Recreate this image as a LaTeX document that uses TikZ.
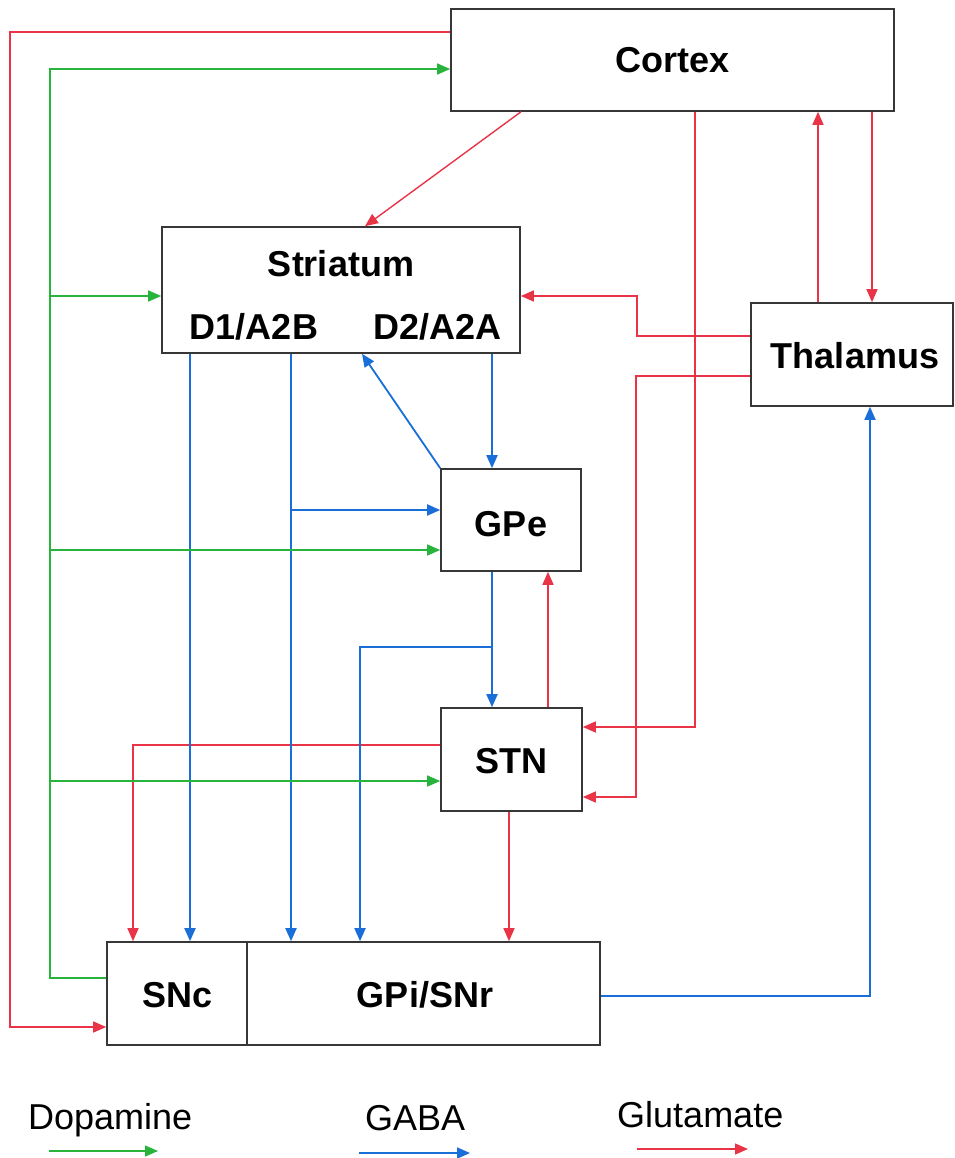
\documentclass[tikz,border=0pt]{standalone}
\usepackage{fontspec}
\setmainfont{Liberation Sans}
\usetikzlibrary{arrows.meta}
\definecolor{glured}{RGB}{232,52,70}
\definecolor{gabablue}{RGB}{25,110,215}
\definecolor{dagreen}{RGB}{40,180,60}
\definecolor{boxgray}{RGB}{55,55,55}
\begin{document}
\begin{tikzpicture}[x=1pt,y=-1pt,
  region/.style={draw=boxgray,line width=1.6pt,inner sep=0pt,
    font=\fontsize{36}{40}\selectfont\bfseries},
  lbl/.style={inner sep=0pt,font=\fontsize{36}{40}\selectfont\bfseries},
  legtext/.style={inner sep=0pt,font=\fontsize{36}{40}\selectfont,anchor=base west},
  tip/.style={-{Triangle[length=13pt,width=11pt]}},
  glu/.style={draw=glured,line width=1.4pt,tip},
  gaba/.style={draw=gabablue,line width=1.8pt,tip},
  dopa/.style={draw=dagreen,line width=1.4pt,tip}]
\useasboundingbox (0,0) rectangle (954,1158);
\fill[white] (0,0) rectangle (954,1158);

% regions
\node[region,minimum width=443pt,minimum height=102pt] (cortex) at (672.5,60) {};
\node[lbl] (cortexlbl) at (cortex.center) {Cortex};
\node[region,minimum width=358pt,minimum height=126pt] (striatum) at (341,290) {};
\node[lbl,anchor=base] (strlbl) at (341,276) {Striatum};
\node[lbl,anchor=base] (d1lbl) at (254,339) {D1/A2B};
\node[lbl,anchor=base] (d2lbl) at (437.5,339) {D2/A2A};
\node[region,minimum width=202pt,minimum height=103pt] (thal) at (852,354.5) {};
\node[lbl] (thallbl) at (855,356) {Thalamus};
\node[region,minimum width=140pt,minimum height=102pt] (gpe) at (511,520) {};
\node[lbl] (gpelbl) at (511,524) {GPe};
\node[region,minimum width=141pt,minimum height=103pt] (stn) at (511.5,759.5) {};
\node[lbl] (stnlbl) at (511.5,761) {STN};
\node[region,minimum width=140pt,minimum height=103pt] (snc) at (177,993.5) {};
\node[lbl] (snclbl) at (178,995) {SNc};
\node[region,minimum width=353pt,minimum height=103pt] (gpi) at (423.5,993.5) {};
\node[lbl] (gpilbl) at (425,995) {GPi/SNr};

% guide coordinates (columns and rows)
\foreach \xx in {10,50,133,190,291,360,362,365,492,509,521,548,636,637,695,818,870,872}
  {\coordinate (x\xx) at (\xx,0);}
\foreach \yy in {32,69,296,336,376,510,550,647,727,745,781,797,978,996,1027}
  {\coordinate (y\yy) at (0,\yy);}

% glutamate
\draw[glu] (cortex.west |- y32) -| (x10 |- y1027) -- (snc.west |- y1027);
\draw[glu] (cortex.south -| x521) -- (striatum.north -| x365);
\draw[glu] (cortex.south -| x695) |- (stn.east |- y727);
\draw[glu] (thal.north -| x818) -- (cortex.south -| x818);
\draw[glu] (cortex.south -| x872) -- (thal.north -| x872);
\draw[glu] (thal.west |- y336) -| (x637 |- y296) -- (striatum.east |- y296);
\draw[glu] (thal.west |- y376) -| (x636 |- y797) -- (stn.east |- y797);
\draw[glu] (stn.north -| x548) -- (gpe.south -| x548);
\draw[glu] (stn.west |- y745) -| (snc.north -| x133);
\draw[glu] (stn.south -| x509) -- (gpi.north -| x509);
% GABA
\draw[gaba] (striatum.south -| x190) -- (snc.north -| x190);
\draw[gaba] (striatum.south -| x291) -- (gpi.north -| x291);
\draw[gaba] (x291 |- y510) -- (gpe.west |- y510);
\draw[gaba] (striatum.south -| x492) -- (gpe.north -| x492);
\draw[gaba] (gpe.north west) -- (striatum.south -| x362);
\draw[gaba] (gpe.south -| x492) -- (stn.north -| x492);
\draw[gaba] (x492 |- y647) -| (gpi.north -| x360);
\draw[gaba] (gpi.east |- y996) -| (thal.south -| x870);
% dopamine
\draw[dopa] (snc.west |- y978) -| (x50 |- y69) -- (cortex.west |- y69);
\draw[dopa] (x50 |- y296) -- (striatum.west |- y296);
\draw[dopa] (x50 |- y550) -- (gpe.west |- y550);
\draw[dopa] (x50 |- y781) -- (stn.west |- y781);

% legend
\node[legtext] (ldop) at (28,1129) {Dopamine};
\node[legtext] (lgaba) at (365,1130) {GABA};
\node[legtext] (lglu) at (617,1127) {Glutamate};
\coordinate (ld1) at (49,1151); \coordinate (ld2) at (158,1151);
\coordinate (lg1) at (359,1153); \coordinate (lg2) at (470,1153);
\coordinate (lu1) at (637,1149); \coordinate (lu2) at (748,1149);
\draw[dopa] (ld1) -- (ld2);
\draw[gaba] (lg1) -- (lg2);
\draw[glu] (lu1) -- (lu2);
\end{tikzpicture}
\end{document}
